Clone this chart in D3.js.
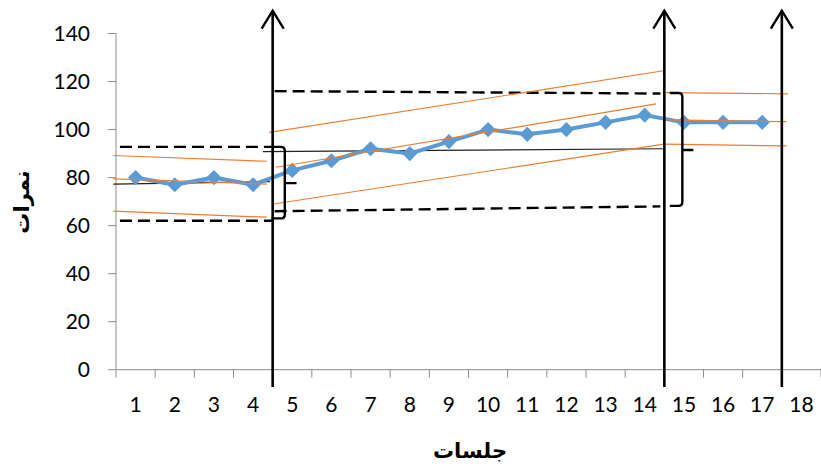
<!DOCTYPE html>
<html><head><meta charset="utf-8">
<script src="https://cdn.jsdelivr.net/npm/d3@7"></script>
<style>body{margin:0;background:#fff}svg{display:block}</style>
</head><body>
<svg id="c" width="821" height="467"></svg>
<script>
// ---- data ----
const sessions = [1,2,3,4,5,6,7,8,9,10,11,12,13,14,15,16,17];
const scores   = [80,77,80,77,83,87,92,90,95,100,98,100,103,106,103,103,103];
const xTickLabels = [1,2,3,4,5,6,7,8,9,10,11,12,13,14,15,16,17,18];
const yTicks = [0,20,40,60,80,100,120,140];
const phaseChanges = [4.5, 14.5, 17.5];
// orange band lines [x1,y1,x2,y2] in (session, score)
const orangeLines = [
  [0.43,89.2,4.35,86.8],[0.43,79.5,4.35,77.3],[0.43,66,4.35,63.5],
  [4.41,98.8,14.52,124.6],[4.58,84.3,14.29,110.7],[4.52,69,14.52,94],
  [14.52,115.4,17.66,114.9],[14.52,104,17.62,103.3],[14.52,93.9,17.62,93.2]
];
const blackLines = [[0.43,77.3,4.43,78.3],[4.25,90.8,14.52,92]];
const dashedLines = [[0.6,92.8,4.5,92.8],[0.6,62,4.5,62],[4.55,116,14.4,115],[4.55,66,14.4,68]];
// braces: [xLeft, xRight, yTop, yBottom, yNub, xNub]
const braces = [[4.47,4.81,92.8,63,77.7,5.11],[14.64,14.96,115.2,68.2,91.5,15.24]];
const xTitle = "جلسات", yTitle = "نمرات";

// ---- scales ----
const svg = d3.select("#c");
const x = d3.scaleLinear().domain([0.5,18.5]).range([116,821]);
const y = d3.scaleLinear().domain([0,140]).range([369.7,33.5]);
const font = "Lato, 'Open Sans', sans-serif";
const axisCol = "#8c8c8c";

// y axis
svg.append("line").attr("x1",x(0.5)).attr("x2",x(0.5)).attr("y1",y(0)).attr("y2",y(140)).attr("stroke",axisCol).attr("stroke-width",1);
svg.selectAll(".yt").data(yTicks).enter().append("line")
  .attr("x1",108).attr("x2",x(0.5)).attr("y1",d=>y(d)).attr("y2",d=>y(d)).attr("stroke",axisCol);
svg.selectAll(".yl").data(yTicks).enter().append("text")
  .attr("x",90).attr("y",d=>y(d)).attr("dy","0.35em").attr("text-anchor","end")
  .attr("font-family",font).attr("font-size",21).attr("fill","#000").text(d=>d);
// x axis
svg.append("line").attr("x1",x(0.5)).attr("x2",x(18.5)).attr("y1",y(0)).attr("y2",y(0)).attr("stroke",axisCol);
svg.selectAll(".xt").data(d3.range(0,19)).enter().append("line")
  .attr("x1",d=>x(d+0.5)).attr("x2",d=>x(d+0.5)).attr("y1",y(0)).attr("y2",y(0)+8).attr("stroke",axisCol);
svg.selectAll(".xl").data(xTickLabels).enter().append("text")
  .attr("x",d=>x(d)).attr("y",412).attr("text-anchor","middle")
  .attr("font-family",font).attr("font-size",21).attr("fill","#000").text(d=>d);

// titles
svg.append("text").attr("x",470).attr("y",458).attr("text-anchor","middle")
  .attr("font-family","'DejaVu Sans', sans-serif").attr("font-weight","bold").attr("font-size",21).text(xTitle);
svg.append("text").attr("transform","translate(29,202) rotate(-90)").attr("text-anchor","middle")
  .attr("font-family","'DejaVu Sans', sans-serif").attr("font-weight","bold").attr("font-size",21).text(yTitle);

// lines
const seg = (sel, data, col, w, dash) => sel.selectAll(null).data(data).enter().append("line")
  .attr("x1",d=>x(d[0])).attr("y1",d=>y(d[1])).attr("x2",d=>x(d[2])).attr("y2",d=>y(d[3]))
  .attr("stroke",col).attr("stroke-width",w).attr("stroke-dasharray",dash||null);
seg(svg, blackLines, "#222", 1.2);
seg(svg, dashedLines, "#000", 2.4, "12,6");

// data line
const line = d3.line().x((d,i)=>x(sessions[i])).y(d=>y(d));
svg.append("path").datum(scores).attr("d",line).attr("fill","none").attr("stroke","#5b9bd5").attr("stroke-width",4).attr("stroke-linejoin","round");
svg.selectAll(".pt").data(scores).enter().append("path")
  .attr("d",d3.symbol(d3.symbolSquare, 115))
  .attr("transform",(d,i)=>`translate(${x(sessions[i])},${y(d)}) rotate(45)`)
  .attr("fill","#5b9bd5");

seg(svg, orangeLines, "#ed7d31", 1.2);

// braces
braces.forEach(b=>{
  const xl=x(b[0]), xr=x(b[1]), yt=y(b[2]), yb=y(b[3]), yn=y(b[4]), xn=x(b[5]);
  const r=4;
  const p=`M${xl},${yt} L${xr-r},${yt} Q${xr},${yt} ${xr},${yt+r} L${xr},${yb-r} Q${xr},${yb} ${xr-r},${yb} L${xl},${yb} M${xr},${yn} L${xn},${yn}`;
  svg.append("path").attr("d",p).attr("fill","none").attr("stroke","#000").attr("stroke-width",2.4);
});

// phase change arrows
phaseChanges.forEach(c=>{
  const px=x(c), top=10.7;
  svg.append("line").attr("x1",px).attr("x2",px).attr("y1",387).attr("y2",top).attr("stroke","#000").attr("stroke-width",2.6);
  svg.append("path").attr("d",`M${px-11},${top+18} L${px},${top} L${px+11},${top+18}`)
    .attr("fill","none").attr("stroke","#000").attr("stroke-width",2.4);
});
</script>
</body></html>
